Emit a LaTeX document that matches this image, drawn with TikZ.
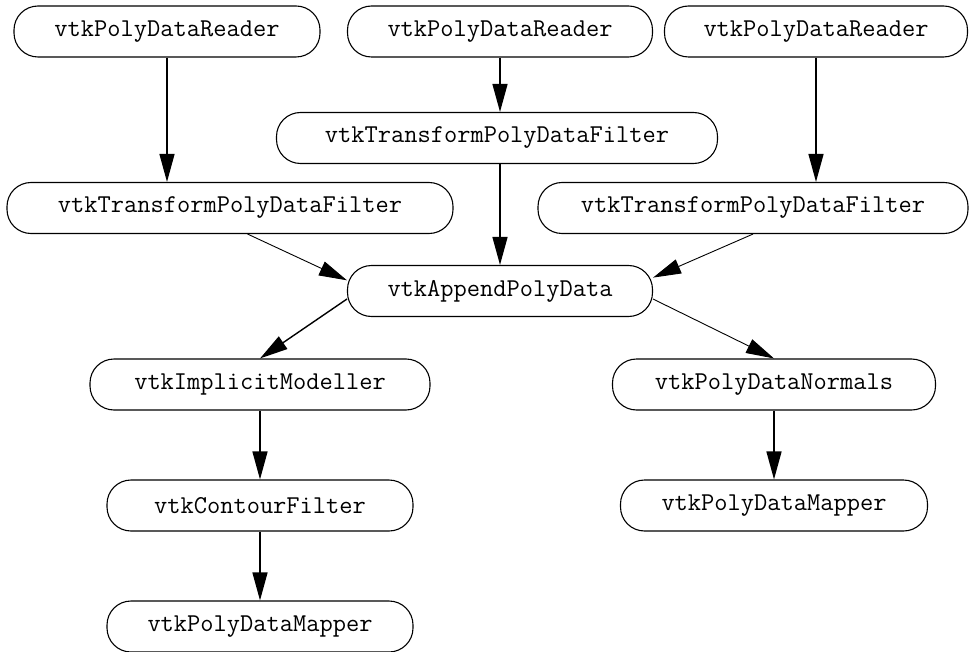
\documentclass[tikz,border=0pt]{standalone}
\usetikzlibrary{arrows.meta,positioning}

\tikzset{
  vtkbox/.style={draw, rounded corners=24pt, minimum height=51pt, inner sep=0pt,
    line width=1.1pt, font=\ttfamily\fontsize{25.7}{27}\selectfont},
  pipe/.style={-{Triangle[length=28pt,width=15pt]}, line width=1.4pt},
  feed/.style={pipe, line width=0.9pt},
}

\begin{document}
\begin{tikzpicture}[node distance=121pt, x=1pt, y=-1pt]
\useasboundingbox (0,0) rectangle (973,652);

\node[vtkbox, minimum width=306pt] (R1) at (167,31.5) {vtkPolyDataReader};
\node[vtkbox, minimum width=305pt] (R2) at (500,31.5) {vtkPolyDataReader};
\node[vtkbox, minimum width=303pt] (R3) at (816,31.5) {vtkPolyDataReader};

\node[vtkbox, minimum width=441pt] (T2) at (497,138) {vtkTransformPolyDataFilter};
\node[vtkbox, minimum width=446pt] (T1) at (230,208) {vtkTransformPolyDataFilter};
\node[vtkbox, minimum width=430pt] (T3) at (753,208) {vtkTransformPolyDataFilter};

\node[vtkbox, minimum width=305pt] (AP) at (500,291) {vtkAppendPolyData};

\node[vtkbox, minimum width=340pt] (IM) at (260,384.5) {vtkImplicitModeller};
\node[vtkbox, minimum width=306pt] (CF) [below of=IM] {vtkContourFilter};
\node[vtkbox, minimum width=306pt] (M1) [below of=CF] {vtkPolyDataMapper};

\node[vtkbox, minimum width=323pt] (N) at (774,384.5) {vtkPolyDataNormals};
\node[vtkbox, minimum width=307pt] (M2) [below of=N] {vtkPolyDataMapper};

\draw[pipe] (R1.south) -- (R1.south |- T1.north);
\draw[pipe] (R2.south) -- (R2.south |- T2.north);
\draw[pipe] (R3.south) -- (R3.south |- T3.north);

\draw[pipe] (AP.north |- T2.south) -- (AP.north);
\draw[feed] (T1.-56) -- (AP.176);
\draw[feed] (T3.south) -- (AP.5);

\draw[pipe] (AP.183) -- (IM.north);
\draw[feed] (AP.-3) -- (N.north);

\draw[pipe] (IM) -- (CF);
\draw[pipe] (CF) -- (M1);
\draw[pipe] (N) -- (M2);
\end{tikzpicture}
\end{document}
